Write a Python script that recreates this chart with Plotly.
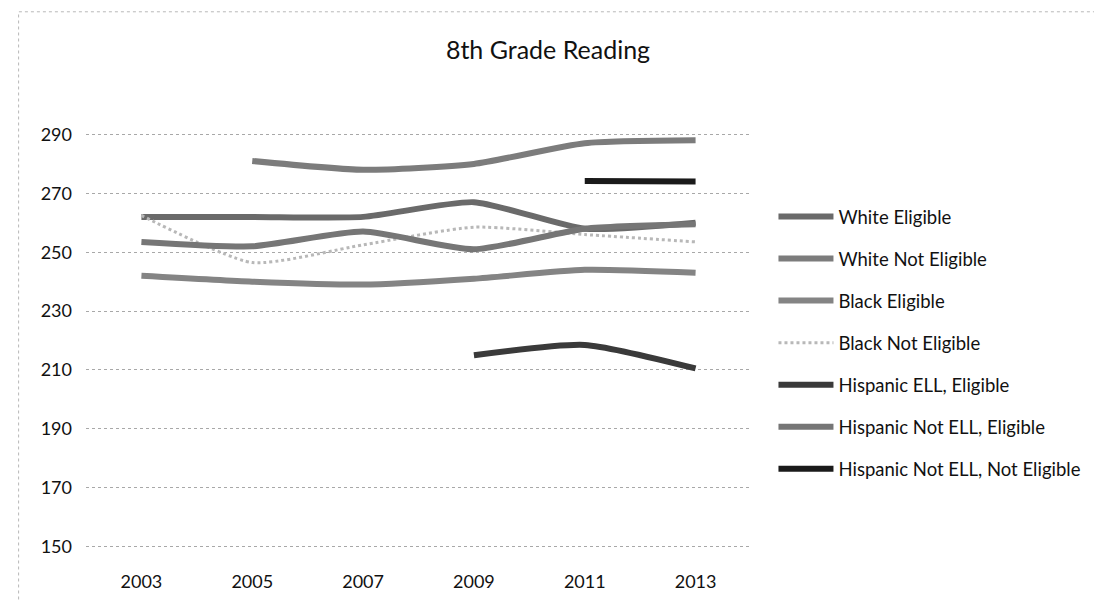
import plotly.graph_objects as go

years = ["2003", "2005", "2007", "2009", "2011", "2013"]

white_eligible = [262, 262, 262, 267, 258, 260]
white_not_eligible = [None, 281, 278, 280, 287, 288]
black_eligible = [242, 240, 239, 241, 244, 243]
black_not_eligible = [262.5, 246.5, 252.5, 258.5, 256, 253.5]
hisp_ell_eligible = [None, None, None, 215, 218.5, 210.5]
hisp_not_ell_eligible = [253.5, 252, 257, 251, 258, 259.5]
hisp_not_ell_not_eligible = [None, None, None, None, 274.2, 274]

series = [
    ("White Eligible", white_eligible, "#6a6a6a", 6, "solid"),
    ("White Not Eligible", white_not_eligible, "#7c7c7c", 6, "solid"),
    ("Black Eligible", black_eligible, "#848484", 6, "solid"),
    ("Black Not Eligible", black_not_eligible, "#b8b8b8", 3, "dot"),
    ("Hispanic ELL, Eligible", hisp_ell_eligible, "#3a3a3a", 6, "solid"),
    ("Hispanic Not ELL, Eligible", hisp_not_ell_eligible, "#767676", 6, "solid"),
    ("Hispanic Not ELL, Not Eligible", hisp_not_ell_not_eligible, "#1a1a1a", 6, "solid"),
]

fig = go.Figure()
for i, (name, vals, color, width, dash) in enumerate(series):
    fig.add_trace(go.Scatter(
        x=years, y=vals, name=name, mode="lines",
        line=dict(color=color, width=width, dash=dash, shape="spline", smoothing=0.6),
        legendgroup=f"g{i}",
        connectgaps=False,
    ))

W, H = 1102, 602
L, R, T, B = 77.5, 743.5, 124.5, 540.5

fig.update_layout(
    width=W, height=H,
    margin=dict(l=L, r=W - R, t=T, b=H - B, autoexpand=False),
    paper_bgcolor="white", plot_bgcolor="white",
    font=dict(family="Lato, 'Open Sans', sans-serif", color="#111", size=18),
    title=dict(text="8th Grade Reading", x=540 / W, xanchor="center",
               y=1 - 42 / H, yanchor="middle",
               font=dict(size=25, color="#111")),
    showlegend=True,
    legend=dict(x=(766 - L) / (R - L), xanchor="left",
                y=(B - 335) / (B - T), yanchor="middle",
                font=dict(size=18.5, color="#111"),
                tracegroupgap=15, itemwidth=55,
                bgcolor="rgba(0,0,0,0)"),
)

fig.update_xaxes(type="category", range=[-0.5, 5.5], showgrid=False,
                 showline=False, zeroline=False, ticks="",
                 ticklabelstandoff=21, tickfont=dict(size=18, color="#111"))
fig.update_yaxes(range=[149.5, 290.5], tickvals=[150, 170, 190, 210, 230, 250, 270, 290],
                 showgrid=True,
                 gridcolor="#a8a8a8", griddash="dot", gridwidth=1,
                 showline=False, zeroline=False, ticks="",
                 ticklabelstandoff=13, tickfont=dict(size=18, color="#111"))

# faint chart-area border
fig.add_shape(type="rect", xref="paper", yref="paper",
              x0=(10 - L) / (R - L), x1=(1097 - L) / (R - L),
              y0=(B - 597) / (B - T), y1=(B - 3) / (B - T),
              line=dict(color="#b8b8b8", width=1, dash="dot"), layer="below")

fig.write_html("out.html")
